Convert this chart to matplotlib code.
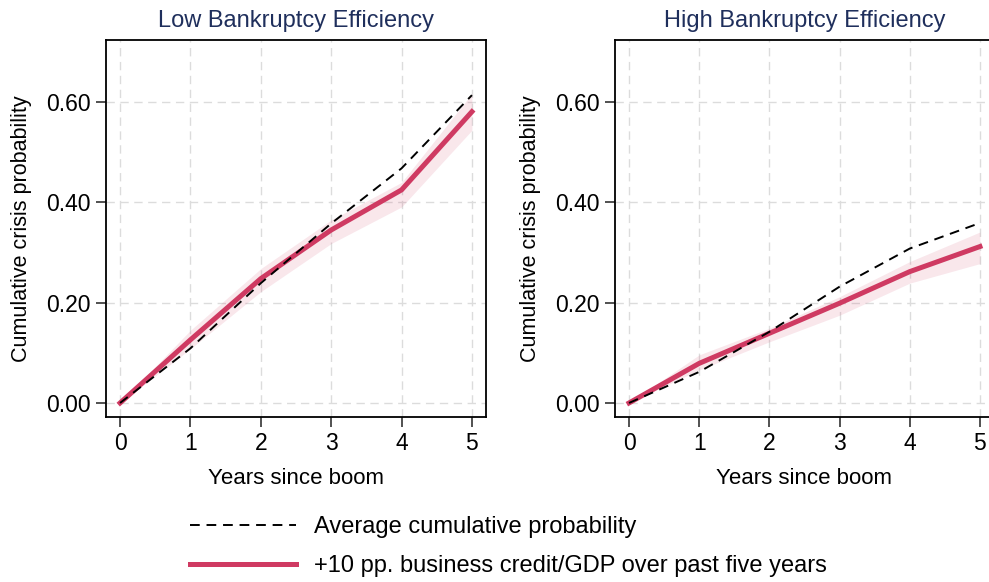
import numpy as np
import matplotlib
matplotlib.use('Agg')
import matplotlib.pyplot as plt

plt.rcParams['font.family'] = ['Liberation Sans', 'DejaVu Sans']

years = [0, 1, 2, 3, 4, 5]

# low bankruptcy efficiency
low_avg = [0.0, 0.109, 0.239, 0.358, 0.468, 0.614]
low_boom = [0.0, 0.126, 0.248, 0.345, 0.425, 0.581]
low_lo = [0.0, 0.108, 0.222, 0.318, 0.391, 0.544]
low_hi = [0.0, 0.145, 0.268, 0.365, 0.440, 0.617]

# high bankruptcy efficiency
high_avg = [0.0, 0.062, 0.142, 0.232, 0.308, 0.359]
high_boom = [0.0, 0.079, 0.139, 0.199, 0.262, 0.312]
high_lo = [0.0, 0.066, 0.122, 0.175, 0.239, 0.278]
high_hi = [0.0, 0.096, 0.149, 0.212, 0.282, 0.341]

titles = ['Low Bankruptcy Efficiency', 'High Bankruptcy Efficiency']
yticks = [0.0, 0.2, 0.4, 0.6]

red = '#cf3a62'
navy = '#1f2f5c'

fig = plt.figure(figsize=(9.89, 5.82), dpi=100)
ax1 = fig.add_axes([106/989, 1-417/582, 380/989, 377/582])
ax2 = fig.add_axes([615/989, 1-417/582, 379/989, 377/582])

panels = [(ax1, low_avg, low_boom, low_lo, low_hi),
          (ax2, high_avg, high_boom, high_lo, high_hi)]

for i, (ax, avg, boom, lo, hi) in enumerate(panels):
    ax.fill_between(years, lo, hi, color=red, alpha=0.12, lw=0)
    l1, = ax.plot(years, avg, ls=(0, (5, 3.5)), lw=1.4, c='black',
                  label='Average cumulative probability', zorder=4)
    l2, = ax.plot(years, boom, ls='-', lw=3.6, c=red,
                  label='+10 pp. business credit/GDP over past five years', zorder=3)
    ax.set_xlim(-0.2, 5.2)
    ax.set_ylim(-0.028, 0.724)
    ax.set_xticks(years)
    ax.set_yticks(yticks)
    ax.set_yticklabels(['%.2f' % v for v in yticks])
    ax.tick_params(labelsize=16.5, length=7, width=1.2, pad=4,
                   direction='out', color='#333333')
    ax.grid(True, ls=(0, (6, 4)), color='#dcdcdc', lw=1)
    ax.set_axisbelow(True)
    for s in ax.spines.values():
        s.set_linewidth(1.3)
    ax.set_title(titles[i], fontsize=17, color=navy, pad=9)
    ax.set_xlabel('Years since boom', fontsize=16, labelpad=9)
    ax.set_ylabel('Cumulative crisis probability', fontsize=15.5, labelpad=10)

fig.legend(handles=[l1, l2], loc='upper left', bbox_to_anchor=(190/989, 1-516/582),
           frameon=False, fontsize=17, handlelength=4.5, labelspacing=0.72,
           handletextpad=0.75, borderpad=0, borderaxespad=0)

fig.savefig('out.png', dpi=100)
